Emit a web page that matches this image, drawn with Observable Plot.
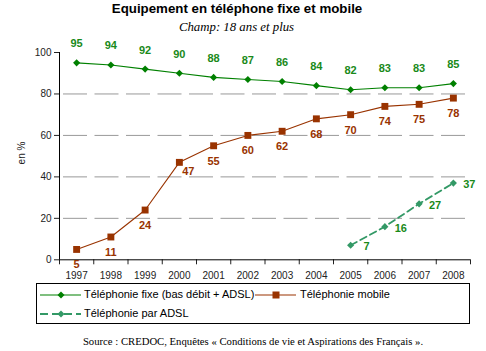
<!DOCTYPE html>
<html><head><meta charset="utf-8">
<script src="https://cdn.jsdelivr.net/npm/d3@7"></script>
<script src="https://cdn.jsdelivr.net/npm/@observablehq/plot@0.6"></script>
<style>
body{margin:0;background:#fff;}
#wrap{position:relative;width:486px;height:351px;overflow:hidden;font-family:"Liberation Sans",Arial,sans-serif;color:#000;}
#title{position:absolute;top:1px;left:0;width:474px;text-align:center;font-weight:bold;font-size:13.3px;line-height:16px;}
#subtitle{position:absolute;top:20px;left:0;width:473px;text-align:center;font-family:"Liberation Serif","Times New Roman",serif;font-style:italic;font-size:12.8px;line-height:14px;}
#chart{position:absolute;top:0;left:0;}
#ylab{position:absolute;left:21px;top:153px;transform:translate(-50%,-50%) rotate(-90deg);font-size:10px;white-space:nowrap;color:#222;}
#legend{position:absolute;left:36px;top:283px;width:432px;height:39px;border:1px solid #000;font-size:11px;}
.li{position:absolute;white-space:nowrap;line-height:13px;}
.ls{position:absolute;}
#source{position:absolute;top:334px;left:0;width:506px;text-align:center;font-family:"Liberation Serif","Times New Roman",serif;font-size:10.7px;line-height:14px;}
</style>
</head><body>
<div id="wrap">
  <div id="title">Equipement en téléphone fixe et mobile</div>
  <div id="subtitle">Champ: 18 ans et plus</div>
  <div id="chart"></div>
  <div id="ylab">en %</div>
  <div id="legend">
    <svg class="ls" style="left:3px;top:5px" width="42" height="12"><line x1="0" y1="6" x2="41" y2="6" stroke="#008000" stroke-width="1.2"/><path d="M21,2.5L24.5,6L21,9.5L17.5,6Z" fill="#008000"/></svg>
    <div class="li" style="left:47px;top:4px">Téléphonie fixe (bas débit + ADSL)</div>
    <svg class="ls" style="left:218px;top:5px" width="42" height="12"><line x1="0" y1="6" x2="41" y2="6" stroke="#993300" stroke-width="1.2"/><rect x="17.5" y="2.5" width="7" height="7" fill="#993300"/></svg>
    <div class="li" style="left:263px;top:4px">Téléphonie mobile</div>
    <svg class="ls" style="left:3px;top:24px" width="42" height="12"><line x1="0" y1="6" x2="41" y2="6" stroke="#339966" stroke-width="2" stroke-dasharray="8,4"/><path d="M21,2.5L24.5,6L21,9.5L17.5,6Z" fill="#339966"/></svg>
    <div class="li" style="left:47px;top:23px">Téléphonie par ADSL</div>
  </div>
  <div id="source">Source : CREDOC, Enquêtes « Conditions de vie et Aspirations des Français ».</div>
</div>
<script>
const years = [1997,1998,1999,2000,2001,2002,2003,2004,2005,2006,2007,2008];
const fixe = [95,94,92,90,88,87,86,84,82,83,83,85];
const mobile = [5,11,24,47,55,60,62,68,70,74,75,78];
const adslYears = [2005,2006,2007,2008];
const adsl = [7,16,27,37];
const yTicks = [0,20,40,60,80,100];
const gridValues = [20,40,60,80];

const fixeData = years.map((y,i)=>({year:y, value:fixe[i]}));
const mobileData = years.map((y,i)=>({year:y, value:mobile[i]}));
const adslData = adslYears.map((y,i)=>({year:y, value:adsl[i]}));
const boundaries = d3.range(years.length+1).map(i => years[0]-0.5+i);

const green = "#008000", labGreen = "#1a8a1a", brown = "#993300", adslC = "#339966";
const lab = {fontSize:11, fontWeight:"bold", fontFamily:"Liberation Sans, Arial, sans-serif"};

const plot = Plot.plot({
  width:486, height:290,
  marginTop:52, marginBottom:30.7, marginLeft:59, marginRight:16,
  style:{fontFamily:"Liberation Sans, Arial, sans-serif", fontSize:"10px", color:"#222", background:"transparent"},
  x:{type:"linear", domain:[years[0]-0.5, years[years.length-1]+0.5], ticks:boundaries, tickSize:5, tickFormat:()=>"", label:null},
  y:{domain:[0,100], ticks:yTicks, tickSize:5, tickPadding:3, label:null},
  marks:[
    Plot.ruleY(gridValues, {stroke:"#999", strokeWidth:1, strokeDasharray:"24,7.5", strokeDashoffset:-4}),
    Plot.ruleX([years[0]-0.5], {y1:0, y2:100, stroke:"#000"}),
    Plot.ruleY([0], {stroke:"#000"}),
    Plot.text(years, {x:d=>d, y:0, dy:16, text:d=>String(d), fontSize:10, fill:"#222"}),
    Plot.line(fixeData, {x:"year", y:"value", stroke:green, strokeWidth:1.1}),
    Plot.dot(fixeData, {x:"year", y:"value", symbol:"diamond2", r:3.2, fill:green, stroke:"none"}),
    Plot.text(fixeData, {x:"year", y:"value", text:d=>String(d.value), dy:-19, fill:labGreen, ...lab}),
    Plot.line(mobileData, {x:"year", y:"value", stroke:brown, strokeWidth:1.1}),
    Plot.dot(mobileData, {x:"year", y:"value", symbol:"square", r:3.9, fill:brown, stroke:"none"}),
    Plot.text(mobileData.filter(d=>d.year!==2000), {x:"year", y:"value", text:d=>String(d.value), dy:15.5, fill:brown, ...lab}),
    Plot.text(mobileData.filter(d=>d.year===2000), {x:"year", y:"value", text:d=>String(d.value), dx:9, dy:9, fill:brown, ...lab}),
    Plot.line(adslData, {x:"year", y:"value", stroke:adslC, strokeWidth:1.8, strokeDasharray:"7,4"}),
    Plot.dot(adslData, {x:"year", y:"value", symbol:"diamond2", r:3.2, fill:adslC, stroke:"none"}),
    Plot.text(adslData, {x:"year", y:"value", text:d=>String(d.value), dx:16, dy:1.5, fill:labGreen, ...lab})
  ]
});
document.getElementById("chart").appendChild(plot);
</script>
</body></html>
